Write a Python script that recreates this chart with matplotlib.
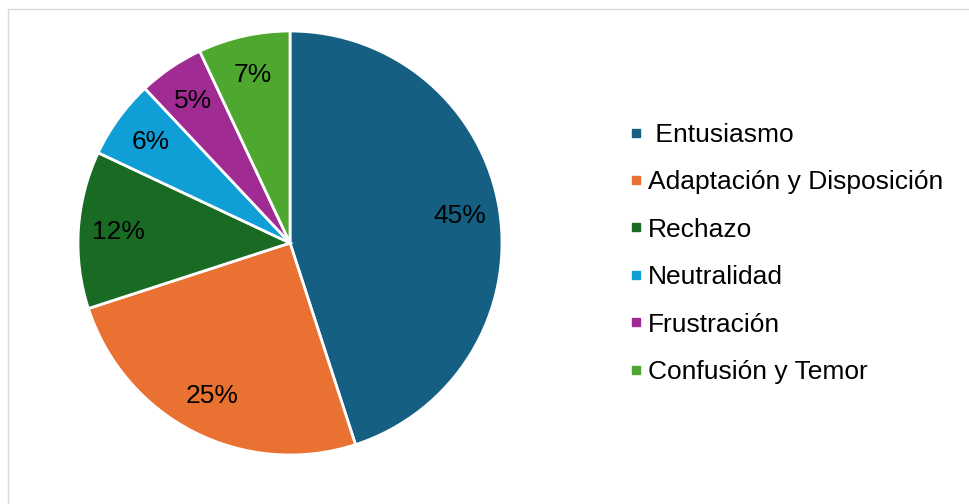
import matplotlib.pyplot as plt
from matplotlib.patches import Rectangle
from matplotlib.lines import Line2D

plt.rcParams['font.family'] = ['Liberation Sans', 'DejaVu Sans']

labels = [' Entusiasmo', 'Adaptación y Disposición', 'Rechazo',
          'Neutralidad', 'Frustración', 'Confusión y Temor']
sizes = [45, 25, 12, 6, 5, 7]
colors = ['#156082', '#E97132', '#196B24', '#0F9ED5', '#A02B93', '#4EA72E']

W, H = 969, 504
fig = plt.figure(figsize=(W / 100, H / 100), dpi=100)

# borde gris claro
fig.patches.append(Rectangle((8 / W, -0.1), 1.2, (H - 9) / H + 0.1,
                             transform=fig.transFigure, fill=False,
                             edgecolor='#d9d9d9', linewidth=1))

# eje de la torta: centro (290, 243), radio 212 px
cx, cy, r = 290, 243, 212
ax = fig.add_axes([(cx - r) / W, (H - cy - r) / H, 2 * r / W, 2 * r / H])
ax.pie(sizes, colors=colors, startangle=90, counterclock=False,
       autopct='%1.0f%%', pctdistance=0.81, radius=1,
       wedgeprops={'edgecolor': 'white', 'linewidth': 2},
       textprops={'fontsize': 19, 'color': 'black'})
ax.set_xlim(-1, 1)
ax.set_ylim(-1, 1)

handles = [Line2D([], [], marker='s', linestyle='none', markersize=6,
                  markerfacecolor=c, markeredgecolor=c) for c in colors]
fig.legend(handles, labels, loc='upper left',
           bbox_to_anchor=(606 / W, 1 - 99 / H), frameon=False,
           fontsize=19, handlelength=0.5, handletextpad=0.2,
           labelspacing=0.89)

fig.savefig('out.png', dpi=100)
